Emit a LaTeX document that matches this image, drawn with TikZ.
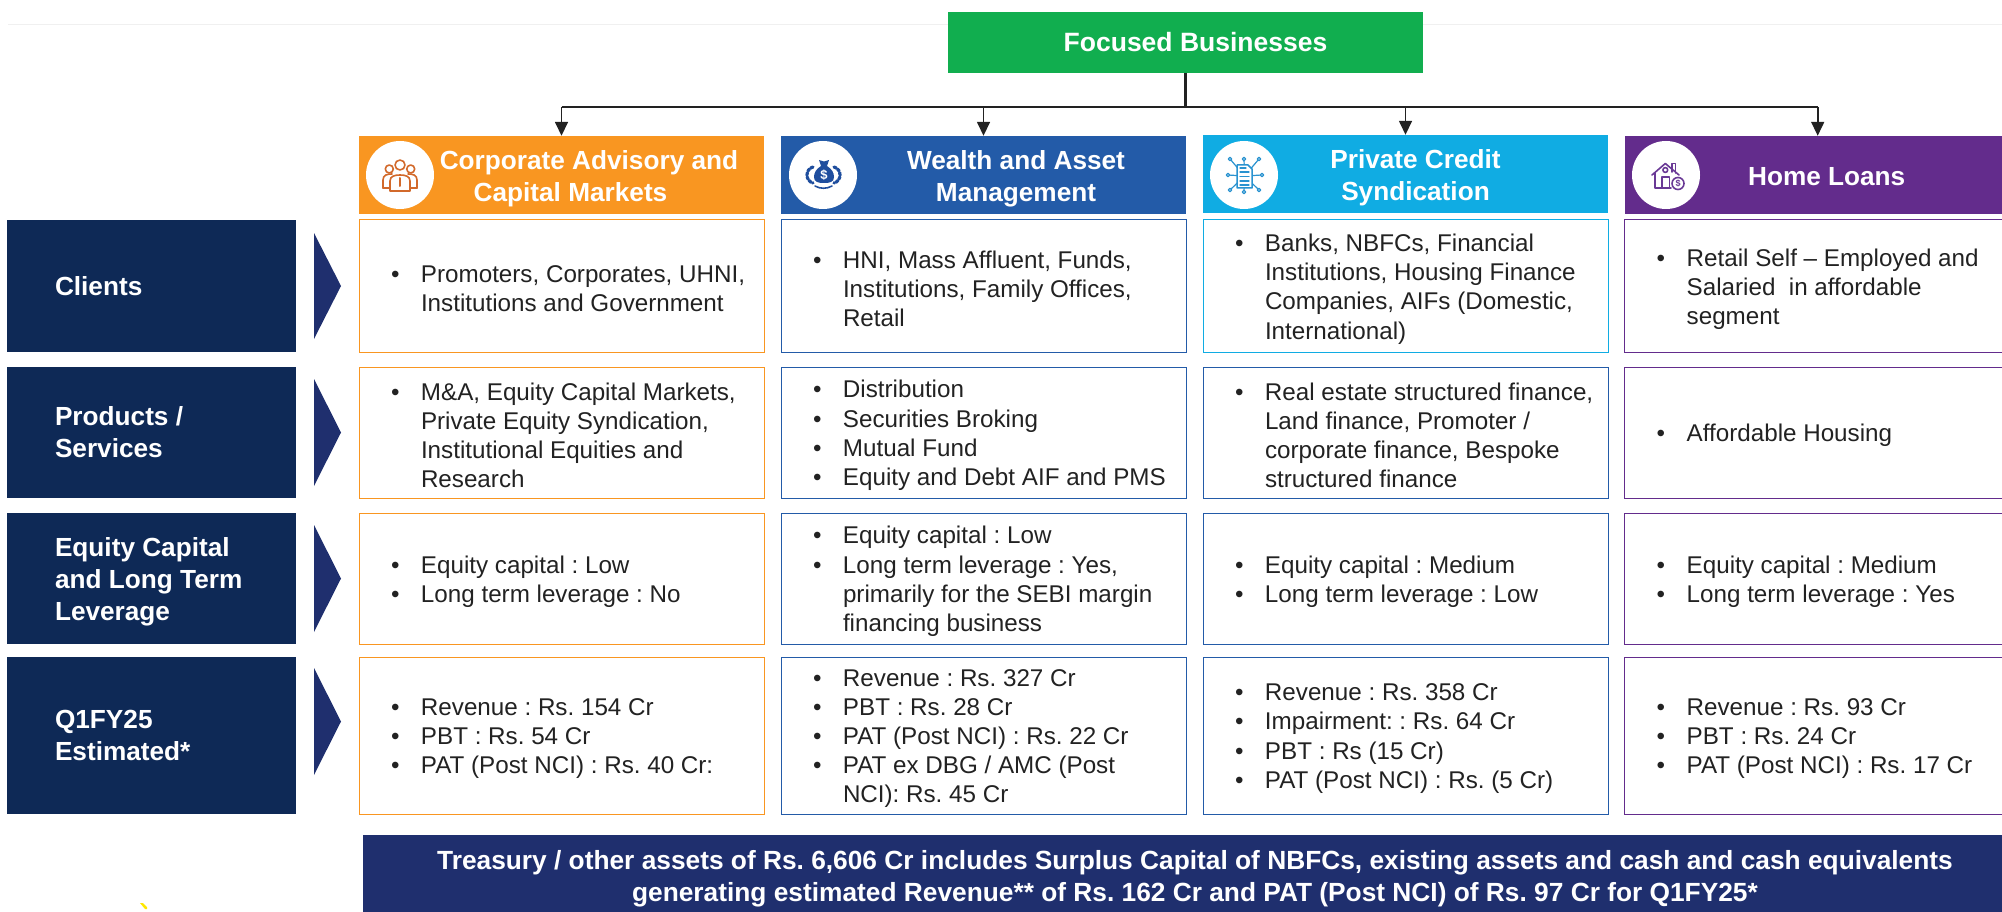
\documentclass[tikz,border=0pt]{standalone}
\usepackage{fontspec}
\setmainfont{Liberation Sans}
\frenchspacing
\usetikzlibrary{arrows.meta}
\definecolor{cOrange}{HTML}{F99621}
\definecolor{cBlue}{HTML}{235BA8}
\definecolor{cCyan}{HTML}{10ACE3}
\definecolor{cPurple}{HTML}{632C8C}
\definecolor{cGreen}{HTML}{11AE4F}
\definecolor{cNavy}{HTML}{0E2956}
\definecolor{cBand}{HTML}{1F2F6E}
\definecolor{cInk}{HTML}{222222}
\definecolor{cIconO}{HTML}{D2692B}
\definecolor{cIconB}{HTML}{1F4E9E}
\definecolor{cIconC}{HTML}{2A93D0}
\definecolor{cIconP}{HTML}{6A3A96}
\newcommand{\bl}{\hspace*{32pt}\makebox[30pt][l]{•}}
\newcommand{\ct}{\hspace*{62pt}}
\newcommand{\li}{\hspace*{48pt}}
\newcommand{\downby}[1]{\leavevmode\vadjust pre{\vskip #1}}
\tikzset{
  cell/.style={draw=#1,line width=1pt,fill=white,minimum width=405pt,text width=405pt,inner sep=0pt,
    align=flush left,text=cInk,font=\fontsize{24.2}{29.2}\selectfont,execute at begin node={\downby{6pt}}},
  hdr/.style={fill=#1,minimum height=78pt,inner sep=0pt,align=flush center,text=white,
    font=\fontsize{26.2}{32}\bfseries\selectfont},
  hdrtwo/.style={hdr=#1,execute at begin node={\downby{7.5pt}}},
  hdrone/.style={hdr=#1,execute at begin node={\downby{2.5pt}}},
  side/.style={fill=cNavy,minimum width=289pt,text width=289pt,inner sep=0pt,align=flush left,text=white,
    font=\fontsize{26.2}{32}\bfseries\selectfont},
  sidelow/.style={side,execute at begin node={\downby{6pt}}},
  tri/.style={fill=cBand,draw=none},
  disc/.style={circle,fill=white,minimum size=68pt,inner sep=0pt},
  conn/.style={cInk,line width=1.6pt,-{Triangle[length=14pt,width=13pt]}},
  bus/.style={cInk,line width=2.8pt},
  busthin/.style={cInk,line width=1.8pt},
  ico/.style={line width=1.6pt,line join=round,line cap=round},
  money/.style={text=white,inner sep=0pt}
}
\begin{document}
\begin{tikzpicture}[x=1pt,y=-1pt]
\useasboundingbox (0,0) rectangle (2002,912);
\clip (0,0) rectangle (2002,912);
% faint rule
\draw[black!6,line width=1pt] (8,25) -- (948,25);
\draw[black!6,line width=1pt] (1423,25) -- (2002,25);
% top box
\node[fill=cGreen,minimum width=475pt,minimum height=61pt,inner sep=0pt,text=white,
  font=\fontsize{26.5}{32}\bfseries\selectfont] (top) at (1185.5,42.5) {\raisebox{-2pt}{\hspace*{20pt}Focused Businesses}};
% headers
\node[hdrtwo=cOrange,minimum width=405pt,text width=405pt] (h1) at (561.5,175) {\hspace*{55pt}Corporate Advisory and\\\hspace*{18pt}Capital Markets};
\node[hdrtwo=cBlue,minimum width=405pt,text width=405pt] (h2) at (983.5,175) {\hspace*{65pt}Wealth and Asset\\\hspace*{65pt}Management};
\node[hdrtwo=cCyan,minimum width=405pt,text width=405pt] (h3) at (1405.5,174) {\hspace*{20pt}Private Credit\\\hspace*{20pt}Syndication};
\node[hdrone=cPurple,minimum width=386pt,text width=386pt] (h4) at (1817.7,175) {\hspace*{18pt}Home Loans};
% connectors
\coordinate (busy) at (1185.5,107);
\draw[bus] (top.south) -- (busy);
\draw[bus] (h1.north |- busy) -- (h3.north |- busy);
\draw[busthin] (h3.north |- busy) -- (h4.north |- busy);
\draw[conn] (h1.north |- busy) -- (h1.north);
\draw[conn] (h2.north |- busy) -- (h2.north);
\draw[conn] (h3.north |- busy) -- (h3.north);
\draw[conn] (h4.north |- busy) -- (h4.north);
% discs
\node[disc] (d1) at (400,175) {};
\node[disc] (d2) at (823,175) {};
\node[disc] (d3) at (1244,175) {};
\node[disc] (d4) at (1666,175) {};
% icon 1: people
\begin{scope}[shift={(400,175)},ico,draw=cIconO]
  \draw[fill=white] (-10.7,-6) circle (4);
  \draw[fill=white] (10.7,-6) circle (4);
  \draw (-17,13) -- (-17,5) .. controls (-17,0) and (-13,-1) .. (-8,-1);
  \draw (17,13) -- (17,5) .. controls (17,0) and (13,-1) .. (8,-1);
  \draw (-17,13) -- (-10,13);
  \draw (17,13) -- (10,13);
  \draw[fill=white] (0,-10) circle (5);
  \draw[fill=white] (-10,16) -- (-10,6) .. controls (-10,1) and (-5,0) .. (0,0) .. controls (5,0) and (10,1) .. (10,6) -- (10,16) -- cycle;
  \draw[line width=2pt] (0,3) -- (0,11);
\end{scope}
% icon 2: money bag and gears
\begin{scope}[shift={(823,175)},ico,draw=cIconB]
  \draw[line width=3.2pt,dash pattern=on 2.6pt off 1.6pt] (-10,-8) .. controls (-18,-6) and (-18,6) .. (-10,8);
  \draw[line width=3.2pt,dash pattern=on 2.6pt off 1.6pt] (11,-8) .. controls (19,-6) and (19,6) .. (11,8);
  \draw (-8,11) .. controls (-3,14) and (4,14) .. (9,11);
  \fill[cIconB] (-2,-9) .. controls (-7,-6) and (-9,-2) .. (-9,2) .. controls (-9,7) and (-5,8) .. (1,8)
     .. controls (7,8) and (11,7) .. (11,2) .. controls (11,-2) and (9,-6) .. (4,-9) -- (6,-15) -- (1,-13.5) -- (-4,-15) -- cycle;
  \node[money,font=\fontsize{13}{13}\bfseries\selectfont] (m2) at (1,0.5) {\$};
\end{scope}
% icon 3: document network
\begin{scope}[shift={(1244,175)},ico,draw=cIconC,line width=1.2pt]
  \foreach \x/\y in {-14/-16,0/-16,15/-16,-16/0,18/0,-14/15,0/17,15/15}{
    \draw (\x,\y) -- (0.5,1);
    \draw[fill=white] (\x,\y) circle (1.7);
  }
  \draw[fill=white,line width=1.5pt] (-7,-10) -- (4,-10) -- (8,-6) -- (8,13) -- (-7,13) -- cycle;
  \foreach \y in {-3,1.5,6,10}{\draw (-4,\y) -- (5,\y);}
  \draw (-4,-7) -- (2,-7);
\end{scope}
% icon 4: house
\begin{scope}[shift={(1666,175)},ico,draw=cIconP]
  \draw (-14,0) -- (-0.7,-11.5) -- (13,0);
  \draw (-11,-2) -- (-11,13) -- (5,13);
  \draw (-4,13) -- (-4,2) -- (3.5,2) -- (3.5,13);
  \draw (6,-3) -- (6,-11.5) -- (9.5,-11.5) -- (9.5,-2);
  \draw (-0.7,-5) circle (2.4);
  \draw[fill=white] (12,8.5) circle (6);
  \node[money,text=cIconP,font=\fontsize{9}{9}\bfseries\selectfont] (m4) at (12,8.5) {\$};
\end{scope}
% row 1
\node[side,minimum height=132pt] (s1) at (151.5,286) {\li Clients};
\node[cell=cOrange,minimum height=132pt] (c11) at (561.5,286) {\bl Promoters, Corporates, UHNI,\\\ct Institutions and Government};
\node[cell=cBlue,minimum height=132pt] (c12) at (983.5,286) {\bl HNI, Mass Affluent, Funds,\\\ct Institutions, Family Offices,\\\ct Retail};
\node[cell=cCyan,minimum height=132pt] (c13) at (1405.5,286) {\bl Banks, NBFCs, Financial\\\ct Institutions, Housing Finance\\\ct Companies, AIFs (Domestic,\\\ct International)};
\node[cell=cPurple,minimum height=132pt] (c14) at (1827.2,286) {\bl Retail Self – Employed and\\\ct Salaried\ \ in affordable\\\ct segment};
% row 2
\node[side,minimum height=131pt] (s2) at (151.5,432.5) {\li Products /\\\li Services};
\node[cell=cOrange,minimum height=131pt] (c21) at (561.5,432.5) {\bl M\&A, Equity Capital Markets,\\\ct Private Equity Syndication,\\\ct Institutional Equities and\\\ct Research};
\node[cell=cBlue,minimum height=131pt] (c22) at (983.5,432.5) {\bl Distribution\\\bl Securities Broking\\\bl Mutual Fund\\\bl Equity and Debt AIF and PMS};
\node[cell=cBlue,minimum height=131pt] (c23) at (1405.5,432.5) {\bl Real estate structured finance,\\\ct Land finance, Promoter /\\\ct corporate finance, Bespoke\\\ct structured finance};
\node[cell=cPurple,minimum height=131pt] (c24) at (1827.2,432.5) {\bl Affordable Housing};
% row 3
\node[sidelow,minimum height=131pt] (s3) at (151.5,578.5) {\li Equity Capital\\\li and Long Term\\\li Leverage};
\node[cell=cOrange,minimum height=131pt] (c31) at (561.5,578.5) {\bl Equity capital : Low\\\bl Long term leverage : No};
\node[cell=cBlue,minimum height=131pt] (c32) at (983.5,578.5) {\bl Equity capital : Low\\\bl Long term leverage : Yes,\\\ct primarily for the SEBI margin\\\ct financing business};
\node[cell=cBlue,minimum height=131pt] (c33) at (1405.5,578.5) {\bl Equity capital : Medium\\\bl Long term leverage : Low};
\node[cell=cPurple,minimum height=131pt] (c34) at (1827.2,578.5) {\bl Equity capital : Medium\\\bl Long term leverage : Yes};
% row 4
\node[side,minimum height=157pt] (s4) at (151.5,735.5) {\li Q1FY25\\\li Estimated*};
\node[cell=cOrange,minimum height=157pt] (c41) at (561.5,735.5) {\bl Revenue : Rs. 154 Cr\\\bl PBT : Rs. 54 Cr\\\bl PAT (Post NCI) : Rs. 40 Cr:};
\node[cell=cBlue,minimum height=157pt] (c42) at (983.5,735.5) {\bl Revenue : Rs. 327 Cr\\\bl PBT : Rs. 28 Cr\\\bl PAT (Post NCI) : Rs. 22 Cr\\\bl PAT ex DBG / AMC (Post\\\ct NCI): Rs. 45 Cr};
\node[cell=cBlue,minimum height=157pt] (c43) at (1405.5,735.5) {\bl Revenue : Rs. 358 Cr\\\bl Impairment: : Rs. 64 Cr\\\bl PBT : Rs (15 Cr)\\\bl PAT (Post NCI) : Rs. (5 Cr)};
\node[cell=cPurple,minimum height=157pt] (c44) at (1827.2,735.5) {\bl Revenue : Rs. 93 Cr\\\bl PBT : Rs. 24 Cr\\\bl PAT (Post NCI) : Rs. 17 Cr};
% triangles
\fill[tri] (314,233) -- (341,286) -- (314,339) -- cycle;
\fill[tri] (314,379) -- (341,432.5) -- (314,486) -- cycle;
\fill[tri] (314,525) -- (341,578.5) -- (314,632) -- cycle;
\fill[tri] (314,668) -- (341,721.5) -- (314,775) -- cycle;
% band
\node[fill=cBand,minimum width=1664pt,minimum height=84pt,text width=1664pt,inner sep=0pt,align=flush center,text=white,
  font=\fontsize{26.3}{32}\bfseries\selectfont,execute at begin node={\downby{4pt}}] (band) at (1195,877)
  {Treasury / other assets of Rs. 6,606 Cr includes Surplus Capital of NBFCs, existing assets and cash and cash equivalents\\generating estimated Revenue** of Rs. 162 Cr and PAT (Post NCI) of Rs. 97 Cr for Q1FY25*};
% yellow tick
\fill[yellow!90!orange] (140,903) -- (143,903) -- (147,907) -- (147,909) -- (145,909) -- cycle;
\end{tikzpicture}
\end{document}
